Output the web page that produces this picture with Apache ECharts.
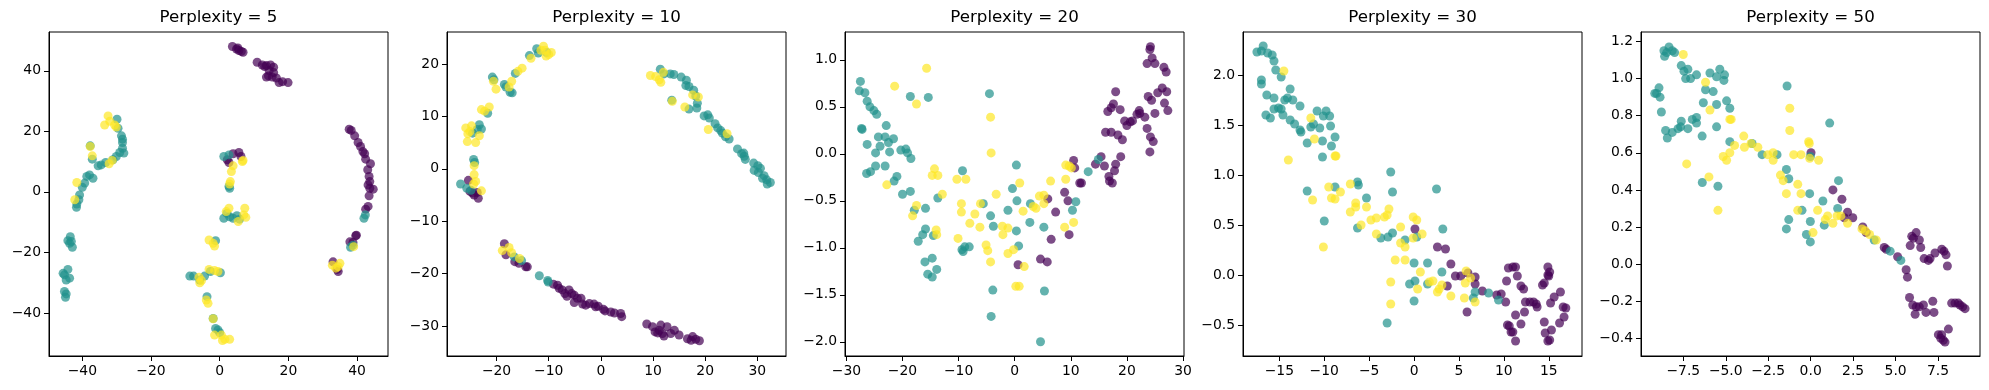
<!DOCTYPE html>
<html><head><meta charset="utf-8">
<script src="https://cdn.jsdelivr.net/npm/echarts@6/dist/echarts.min.js"></script>
<style>html,body{margin:0;padding:0;background:#fff}#c{width:1989px;height:390px}</style>
</head><body><div id="c"></div>
<script>
// ---------- DATA ----------
const titles = ['Perplexity = 5','Perplexity = 10','Perplexity = 20','Perplexity = 30','Perplexity = 50'];

const p1Purple = [[3.7,48.0],[5.3,47.5],[4.9,47.2],[5.6,46.7],[6.3,46.4],[6.8,46.1],
[10.9,42.8],[12.4,41.9],[13.6,41.7],[14.8,41.9],[15.7,41.2],[14.2,38.3],[15.3,37.9],[14.4,40.1],[16.5,37.6],[17.3,36.1],[18.3,36.4],[19.9,36.1],[15.7,39.4],[13.6,37.9],[13.1,41.4],
[37.7,20.7],[38.3,20.3],[39.3,18.5],[40.3,16.3],[41.0,15.0],[41.7,13.3],[42.2,12.6],[42.5,10.8],[43.9,9.3],[43.1,7.3],[43.5,5.1],[43.7,3.4],[43.2,2.3],[43.7,1.2],[44.7,0.9],[43.5,-1.3],[43.2,-4.8],[42.5,-5.7],[39.6,-14.5],[39.8,-14.3],[37.9,-16.5],[38.8,-16.7],
[33.0,-23.1],[34.5,-26.3],[34.2,-25.6],
[2.7,9.7],[3.9,12.6],[5.6,13.0],[6.2,11.7],[2.2,10.6]];
const p1Teal = [[42.0,-8.7],[42.4,-7.6],[38.1,-18.3],[38.8,-17.6],
[1.2,11.7],[2.7,12.2],[2.7,1.8],[2.9,1.2],
[1.2,-8.7],[2.9,-8.2],[3.9,-8.7],[5.0,-7.9],[5.8,-9.0],[2.1,-7.1],
[-1.2,-16.1],[-8.7,-27.8],[-7.6,-27.8],[-4.4,-27.8],[-5.8,-29.1],[0.2,-26.7],[-2.7,-26.3],[-3.7,-34.6],[-1.9,-41.8],[-1.2,-45.1],[-0.5,-45.6],[0.0,-46.5],
[-29.9,24.0],[-29.6,21.0],[-28.6,18.5],[-28.3,17.4],[-28.3,16.3],[-28.3,14.4],[-27.9,12.8],[-29.1,13.0],[-30.1,11.7],[-31.1,10.6],[-33.2,9.7],[-34.5,8.9],[-35.4,8.6],[-37.1,10.8],[-37.7,15.2],
[-37.9,5.6],[-36.9,4.5],[-38.7,5.1],[-39.3,2.9],[-40.0,1.5],[-40.8,-1.0],[-41.0,-2.6],[-41.6,-4.0],[-41.7,-5.1],
[-43.5,-14.8],[-44.2,-16.1],[-43.7,-17.0],[-42.9,-18.3],[-43.2,-16.4],[-44.2,-25.6],[-45.2,-27.4],[-43.7,-28.5],[-44.7,-29.1],[-45.2,-32.9],[-44.7,-33.7],[-44.9,-34.8],[-45.6,-26.9]];
const p1Yellow = [[39.0,-18.1],[32.8,-24.2],[35.0,-23.6],[33.8,-25.2],[34.5,-24.7],
[6.6,10.0],[3.9,8.6],[3.4,6.7],[3.1,3.4],[2.9,2.6],[6.8,10.4],
[2.7,-5.4],[1.9,-6.5],[5.4,-9.8],[7.3,-5.4],[7.6,-8.4],[7.0,-7.6],
[-3.1,-15.9],[-1.9,-17.0],[-1.5,-17.9],
[-6.0,-28.2],[-5.8,-30.0],[-5.3,-29.3],[-3.1,-25.6],[-1.5,-26.0],[-0.5,-26.3],
[-3.9,-35.7],[-3.4,-36.8],[-1.9,-41.9],[-1.5,-47.3],[0.5,-47.3],[0.8,-49.1],[2.9,-48.7],[1.5,-48.7],
[-32.5,25.1],[-33.5,22.1],[-32.0,23.3],[-30.6,22.1],[-30.1,21.4],[-37.7,15.0],[-37.1,11.9],[-32.2,9.3],[-31.3,10.4],[-41.6,3.1],[-42.2,-2.6]];

const p2Purple = [[-25.4,-2.2],[-25.1,-4.3],[-24.3,-5.0],[-23.5,-5.6],[-24.6,-4.6],[-23.7,-4.5],
[-18.5,-14.3],[-18.2,-16.4],[-16.5,-17.7],[-15.7,-18.0],[-14.4,-18.7],[-14.1,-18.7],
[-9.1,-22.0],[-8.0,-22.8],[-7.4,-23.1],[-6.9,-23.8],[-6.1,-23.1],[-5.6,-23.8],[-5.1,-24.1],[-6.5,-24.3],[-3.8,-24.7],[-3.5,-25.8],[-2.2,-25.7],[-1.3,-25.8],[-1.0,-26.3],[-0.5,-26.2],[0.5,-26.8],[0.8,-27.1],[1.9,-27.3],[2.6,-27.5],[3.8,-27.6],[4.0,-28.2],[-4.5,-24.7],[-2.9,-26.0],[-8.3,-22.2],[-5.1,-25.5],
[8.8,-29.6],[9.9,-30.1],[10.4,-31.1],[11.5,-29.8],[11.2,-30.8],[11.8,-31.4],[12.7,-30.1],[13.4,-31.4],[12.1,-31.9],[10.9,-31.3],[15.0,-31.7],[16.6,-32.4],[17.6,-32.0],[18.2,-32.5],[18.9,-32.8],[17.3,-32.7],[14.1,-30.8]];
const p2Teal = [[-20.8,17.5],[-20.5,17.0],[-18.5,16.1],[-18.2,15.6],[-17.4,14.6],[-17.0,14.5],[-16.4,18.2],[-23.3,8.4],[-22.9,7.6],[-23.7,7.5],[-24.6,6.8],[-21.7,10.6],[-13.7,21.6],[-12.3,22.9],[-12.0,22.1],[-10.4,22.2],
[-24.4,1.8],[-24.2,1.2],[-26.9,-2.9],[-25.7,-3.7],[-24.9,-4.1],
[-16.6,-16.8],[-15.2,-17.5],[-11.8,-20.4],[-10.2,-21.3],[-10.1,-21.6],
[11.4,19.0],[12.1,18.1],[13.3,18.1],[14.0,18.0],[15.4,17.5],[16.4,16.9],[16.3,15.9],[16.9,15.7],[17.8,15.0],[18.2,13.9],[18.5,12.5],[18.4,11.6],[16.9,11.4],[19.8,10.1],[20.5,10.3],[20.8,9.7],[21.9,8.6],[22.4,7.8],[23.0,7.3],[23.3,6.8],[23.9,6.1],[24.6,5.7],[26.2,3.8],[27.0,2.9],[27.5,2.4],[27.4,3.0],[27.7,1.8],[29.3,1.1],[30.1,0.6],[30.6,0.1],[29.4,-0.3],[30.2,-0.7],[31.3,-1.3],[31.8,-2.1],[32.5,-2.6],[31.9,-2.9],[31.0,-1.8],[13.6,13.1]];
const p2Yellow = [[-20.6,16.7],[-20.1,15.2],[-17.6,15.6],[-17.1,16.7],[-15.9,18.6],[-15.1,19.2],[-13.4,21.1],[-11.0,23.4],[-10.7,22.6],[-10.0,21.8],[-9.5,22.2],[-22.9,11.3],[-21.4,11.8],[-22.3,11.0],[-25.9,7.8],[-24.8,8.2],[-25.5,6.7],[-25.6,5.2],[-24.0,5.0],[-23.3,6.3],[-25.1,7.1],[-11.5,22.6],[-10.5,21.5],
[-24.3,0.6],[-24.3,-1.1],[-24.0,-2.4],[-24.4,-2.9],[-22.9,-4.2],
[-18.9,-15.6],[-17.6,-15.0],[-17.1,-16.0],[-15.6,-17.1],
[9.5,17.8],[10.5,17.6],[11.2,17.0],[11.5,16.5],[12.0,18.4],[13.7,12.9],[16.1,11.8],[17.6,14.1],[18.7,13.7],[20.6,7.5],[24.2,6.7]];

const p3Purple = [[10.5,-0.07],[10.7,-0.15],[11.6,-0.31],[11.9,-0.31],[8.9,-0.41],[9.5,-0.50],[7.3,-0.62],[5.9,-0.48],[6.5,-0.91],[9.7,-0.86],[4.6,-1.12],[5.8,-1.15],[0.6,-1.18],
[14.4,-0.11],[15.4,-0.03],[16.0,-0.13],[16.8,-0.24],[17.8,-0.18],[16.9,-0.29],[17.4,-0.31],[18.0,-0.11],[18.9,-0.03],[16.2,0.23],[17.2,0.23],[18.4,0.20],[19.2,0.15],[16.6,0.45],[17.2,0.49],[18.0,0.66],[17.6,0.53],[18.8,0.47],[19.6,0.35],[20.0,0.30],[20.6,0.34],[21.0,0.35],[21.8,0.42],[22.2,0.46],[22.3,0.43],[23.2,0.39],[23.6,0.27],[23.8,0.61],[24.4,0.57],[24.2,0.18],[24.7,0.13],[24.1,0.02],
[24.2,1.14],[24.1,1.11],[24.5,1.02],[23.6,0.96],[25.0,0.96],[26.6,0.92],[27.0,0.87],[26.3,0.70],[27.1,0.66],[25.5,0.65],[26.7,0.54],[27.3,0.46],[25.0,0.43]];
const p3Teal = [[-27.5,0.77],[-27.7,0.67],[-26.7,0.65],[-26.3,0.56],[-25.8,0.50],[-25.1,0.46],[-24.6,0.42],[-27.2,0.26],[-27.3,0.27],[-22.9,0.30],[-24.3,0.18],[-23.1,0.18],[-22.5,0.12],[-21.6,0.16],[-24.0,0.08],[-26.3,0.10],[-24.8,0.01],[-22.3,0.02],[-20.3,0.04],[-19.4,0.05],[-19.1,0.01],[-18.5,-0.05],[-26.4,-0.21],[-25.7,-0.19],[-24.8,-0.13],[-23.1,-0.13],[-21.0,-0.24],[-21.5,-0.29],[-20.0,-0.43],[-18.6,-0.40],[-18.6,0.61],[-15.4,0.60],[-17.9,-0.60],[-15.9,-0.58],[-13.7,-0.47],[-17.2,-0.93],[-16.4,-0.86],[-15.9,-0.80],[-16.0,-1.15],[-14.7,-1.11],[-15.5,-1.28],[-14.7,-1.31],[-13.9,-1.23],[-14.5,-0.87],
[-9.3,-0.18],[-9.2,-1.04],[-8.9,-0.99],[-8.1,-0.99],[-9.4,-1.02],[-5.6,-0.53],[-4.3,-0.66],[-3.8,-0.77],[-4.5,0.64],[-3.9,-1.45],[-4.2,-1.73],[-0.4,-0.37],[0.3,-0.12],[0.4,-0.50],[-1.2,-0.60],[0.3,-0.82],[0.7,-0.98],[2.8,-0.53],[2.7,-0.73],[5.2,-0.78],[5.3,-1.46],[4.6,-2.00],[10.3,-0.60],[10.9,-0.51],[13.1,-0.19],[14.9,-0.06]];
const p3Yellow = [[-15.7,0.91],[-21.4,0.72],[-17.5,0.53],[-4.3,0.39],[-4.2,0.01],[-22.8,-0.33],[-14.3,-0.16],[-14.7,-0.23],[-13.7,-0.23],[-12.9,-0.43],[-17.5,-0.55],[-18.2,-0.66],[-14.0,-0.81],[-13.9,-0.86],[-10.3,-0.27],[-8.7,-0.27],[-9.5,-0.53],[-9.5,-0.62],[-7.1,-0.64],[-8.0,-0.74],[-6.2,-0.78],[-6.1,-0.53],[-10.1,-0.90],[-5.1,-0.97],[-4.8,-1.03],[-4.3,-1.15],[-3.3,-0.43],[-2.2,-0.77],[-2.1,-0.86],[-1.2,-0.79],[-1.2,-1.06],[-0.2,-1.02],[0.2,-1.41],[0.8,-1.41],[0.9,-0.31],[1.5,-0.61],[1.7,-1.20],[3.3,-0.56],[3.8,-0.58],[4.4,-0.45],[5.2,-0.44],[5.2,-0.53],[6.4,-0.29],[9.1,-0.12],[9.7,-0.13],[10.1,-0.15],[9.1,-0.27],[8.9,-0.78],[10.5,-0.73]];

const p4Purple = [[0.1,0.46],[2.6,0.28],[3.5,0.26],[4.1,0.11],[4.6,-0.01],[5.2,-0.01],[3.7,-0.11],[6.0,0.02],[6.8,-0.02],[5.9,-0.37],[6.8,-0.09],[7.6,-0.16],[9.2,-0.20],[9.7,-0.19],[10.2,-0.27],[10.3,-0.06],[10.5,0.07],[11.0,0.08],[11.3,0.08],[11.5,-0.01],[11.9,-0.11],[12.2,-0.14],[11.3,-0.40],[12.3,-0.37],[10.4,-0.50],[10.6,-0.51],[11.0,-0.57],[11.3,-0.66],[11.9,-0.49],[10.8,-0.57],[12.4,-0.27],[12.9,-0.27],[13.3,-0.27],[13.6,-0.29],[13.7,-0.32],[14.3,-0.10],[14.5,-0.08],[14.9,0.08],[15.1,0.03],[15.0,-0.01],[14.9,0.00],[15.2,-0.28],[15.6,-0.22],[16.3,-0.17],[16.6,-0.32],[16.9,-0.33],[16.7,-0.42],[16.2,-0.48],[15.3,-0.55],[14.5,-0.47],[14.6,-0.58],[14.9,-0.66],[15.1,-0.65]];
const p4Teal = [[-17.5,2.23],[-16.8,2.29],[-17.0,2.24],[-16.3,2.22],[-15.8,2.20],[-15.6,2.14],[-15.4,2.05],[-14.8,1.98],[-17.0,1.95],[-17.0,1.91],[-16.4,1.80],[-15.6,1.77],[-15.1,1.67],[-15.6,1.66],[-16.5,1.60],[-16.0,1.57],[-14.6,1.60],[-14.8,1.66],[-14.4,1.75],[-14.1,1.77],[-13.8,1.86],[-13.5,1.75],[-13.8,1.55],[-13.3,1.51],[-12.7,1.69],[-12.7,1.45],[-12.6,1.43],[-11.9,1.32],[-11.5,1.48],[-11.2,1.51],[-10.8,1.64],[-10.5,1.47],[-10.1,1.59],[-9.8,1.64],[-9.4,1.59],[-9.3,1.49],[-10.2,1.34],[-10.2,1.18],[-9.2,1.29],[-8.8,1.38],[-8.8,0.88],[-11.9,0.84],[-10.0,0.54],[-6.3,0.93],[-6.2,0.90],[-6.3,0.47],[-5.3,0.77],[-2.6,1.03],[-2.4,0.83],[-3.7,0.37],[-2.9,0.38],[-2.4,0.42],[-1.0,0.35],[0.0,0.12],[0.1,-0.06],[-0.5,-0.09],[0.0,-0.26],[0.3,0.38],[1.5,0.12],[1.5,-0.09],[2.5,0.86],[3.2,0.46],[3.1,0.03],[-3.0,-0.48],[6.8,-0.17],[6.6,-0.23],[8.3,-0.18],[9.4,-0.25]];
const p4Yellow = [[-14.5,2.04],[-11.5,1.57],[-11.1,1.36],[-14.0,1.15],[-8.8,1.19],[-8.7,1.19],[-11.3,0.75],[-9.5,0.88],[-9.2,0.77],[-8.8,0.76],[-8.2,0.83],[-7.1,0.91],[-10.1,0.28],[-7.1,0.63],[-6.5,0.72],[-6.5,0.68],[-5.3,0.68],[-5.9,0.50],[-4.8,0.55],[-4.2,0.57],[-3.3,0.58],[-3.0,0.60],[-2.8,0.66],[-4.2,0.41],[-1.5,0.48],[-1.5,0.32],[-1.0,0.28],[-0.1,0.58],[0.3,0.55],[0.9,0.41],[-0.1,0.37],[-2.1,0.15],[-1.0,0.15],[0.7,0.03],[-2.6,-0.07],[-2.6,-0.29],[0.4,-0.14],[1.7,-0.07],[2.1,-0.06],[2.6,-0.17],[2.8,-0.14],[3.1,-0.10],[4.1,-0.21],[5.8,0.04],[5.7,-0.08],[5.6,-0.23],[6.3,-0.03],[6.8,-0.27]];

const p5Purple = [[0.02,0.60],[1.31,0.40],[1.84,0.35],[2.17,0.28],[2.48,0.25],[1.98,0.25],[3.07,0.20],[3.27,0.17],[4.33,0.09],[4.45,0.08],[5.12,0.04],[5.62,-0.03],[5.70,-0.07],[5.86,0.10],[5.95,0.15],[6.21,0.17],[6.05,0.14],[6.40,0.13],[6.48,0.09],[6.68,0.03],[6.93,0.02],[7.03,0.03],[7.32,0.06],[7.72,0.08],[7.85,0.07],[7.97,0.05],[8.05,-0.01],[5.82,-0.18],[6.01,-0.22],[6.21,-0.23],[6.40,-0.23],[6.15,-0.27],[6.79,-0.26],[7.19,-0.20],[7.26,-0.26],[6.64,-0.22],[8.30,-0.21],[8.50,-0.21],[8.69,-0.21],[8.79,-0.22],[8.95,-0.23],[9.09,-0.24],[8.11,-0.35],[7.52,-0.38],[7.71,-0.38],[7.81,-0.41],[7.91,-0.42],[7.66,-0.40]];
const p5Teal = [[-8.64,1.15],[-8.34,1.17],[-8.48,1.14],[-8.15,1.15],[-8.01,1.14],[-8.60,1.12],[-9.07,0.92],[-8.93,0.95],[-8.87,0.90],[-9.18,0.92],[-8.79,0.82],[-7.62,1.07],[-7.46,1.04],[-7.23,1.05],[-7.36,1.00],[-7.07,1.00],[-6.72,1.02],[-5.93,1.03],[-5.35,1.05],[-5.07,1.02],[-5.54,1.01],[-5.11,0.99],[-6.19,0.94],[-5.74,0.93],[-6.32,0.87],[-5.54,0.86],[-4.95,0.88],[-4.76,0.84],[-8.54,0.72],[-8.44,0.68],[-8.15,0.71],[-7.81,0.73],[-7.62,0.77],[-7.66,0.74],[-7.23,0.73],[-6.97,0.78],[-6.72,0.79],[-6.72,0.76],[-6.39,0.69],[-5.54,0.74],[-4.76,0.66],[-6.38,0.44],[-5.46,0.42],[-3.45,0.65],[-2.86,0.59],[-1.98,0.59],[-1.39,0.96],[-1.43,0.51],[-1.29,0.46],[-1.29,0.24],[-1.43,0.19],[-0.51,0.29],[-0.06,0.38],[0.72,0.34],[-0.25,0.16],[-0.02,0.23],[-0.02,0.12],[0.80,0.21],[1.12,0.76],[1.64,0.45],[1.59,0.30],[-0.02,0.58],[3.74,0.13],[4.68,0.07],[5.31,0.02]];
const p5Yellow = [[-7.50,1.13],[-6.19,0.98],[-5.93,0.83],[-4.76,0.78],[-4.68,0.78],[-7.30,0.54],[-5.99,0.47],[-5.46,0.29],[-3.94,0.69],[-3.90,0.63],[-3.51,0.65],[-4.48,0.64],[-4.76,0.60],[-5.15,0.58],[-4.95,0.56],[-3.11,0.63],[-2.53,0.59],[-2.21,0.60],[-2.21,0.56],[-1.23,0.84],[-1.23,0.72],[-1.78,0.48],[-1.62,0.45],[-1.43,0.38],[-1.00,0.59],[-0.57,0.59],[-0.76,0.43],[-0.57,0.38],[-0.76,0.29],[-0.12,0.66],[-0.08,0.65],[-0.06,0.57],[0.47,0.56],[0.41,0.29],[0.14,0.17],[0.86,0.24],[1.00,0.26],[1.31,0.22],[1.55,0.26],[1.78,0.26],[2.17,0.22],[3.02,0.19],[3.21,0.18],[3.47,0.16],[3.86,0.13]];

// tick labels
const xTicks = [[-40,-20,0,20,40],[-20,-10,0,10,20,30],[-30,-20,-10,0,10,20,30],[-15,-10,-5,0,5,10,15],[-7.5,-5,-2.5,0,2.5,5,7.5]];
const yTicks = [[-40,-20,0,20,40],[-30,-20,-10,0,10,20],[-2,-1.5,-1,-0.5,0,0.5,1],[-0.5,0,0.5,1,1.5,2],[-0.4,-0.2,0,0.2,0.4,0.6,0.8,1,1.2]];
const xDecimals = [0,0,0,0,1];
const yDecimals = [0,0,1,1,1];
// axis limits
const xLimits = [[-49.7,49.0],[-29.5,35.5],[-30.25,30.18],[-19.05,18.7],[-9.99,9.97]];
const yLimits = [[-54.2,52.8],[-35.7,26.1],[-2.151,1.296],[-0.81,2.43],[-0.495,1.251]];

const classData = [
  [p1Purple,p1Teal,p1Yellow],[p2Purple,p2Teal,p2Yellow],[p3Purple,p3Teal,p3Yellow],
  [p4Purple,p4Teal,p4Yellow],[p5Purple,p5Teal,p5Yellow]];
const colors = ['#440154','#21918c','#fde725'];

// ---------- LAYOUT ----------
const lefts = [49,447,845,1243,1641];
const W = 339, TOP = 32, H = 324;
const FONT = 'DejaVu Sans';
function fmt(dec){ return v => { const s = Number(v).toFixed(dec); return (Math.abs(v) < 1e-9 ? Math.abs(0).toFixed(dec) : s).replace('-', '\u2212'); }; }

const option = {
  animation:false,
  backgroundColor:'#fff',
  title: titles.map((t,i)=>({text:t,left:lefts[i]+W/2,top:9,padding:0,textAlign:'center',
    textStyle:{fontFamily:FONT,fontSize:16.7,fontWeight:'normal',color:'#000'}})),
  grid: lefts.map(l=>({left:l,top:TOP,width:W,height:H,show:true,borderColor:'#000',borderWidth:1,backgroundColor:'rgba(0,0,0,0)',containLabel:false})),
  xAxis: lefts.map((l,i)=>({gridIndex:i,type:'value',min:xLimits[i][0],max:xLimits[i][1],
    splitLine:{show:false},axisLine:{show:true,onZero:false,lineStyle:{color:'#000',width:1}},
    axisTick:{show:true,inside:false,length:5,lineStyle:{color:'#000',width:1},customValues:xTicks[i]},
    axisLabel:{show:true,customValues:xTicks[i],formatter:fmt(xDecimals[i]),color:'#000',fontFamily:FONT,fontSize:13.9,margin:8}})),
  yAxis: lefts.map((l,i)=>({gridIndex:i,type:'value',min:yLimits[i][0],max:yLimits[i][1],
    splitLine:{show:false},axisLine:{show:true,onZero:false,lineStyle:{color:'#000',width:1}},
    axisTick:{show:true,inside:false,length:5,lineStyle:{color:'#000',width:1},customValues:yTicks[i]},
    axisLabel:{show:true,customValues:yTicks[i],formatter:fmt(yDecimals[i]),color:'#000',fontFamily:FONT,fontSize:13.9,margin:8}})),
  series: []
};
classData.forEach((cls,i)=>{
  cls.forEach((pts,k)=>{
    option.series.push({type:'scatter',xAxisIndex:i,yAxisIndex:i,data:pts,symbol:'circle',symbolSize:9,
      silent:true,itemStyle:{color:colors[k],opacity:0.7,borderWidth:0}});
  });
});
const chart = echarts.init(document.getElementById('c'),null,{renderer:'canvas'});
chart.setOption(option);
</script></body></html>
